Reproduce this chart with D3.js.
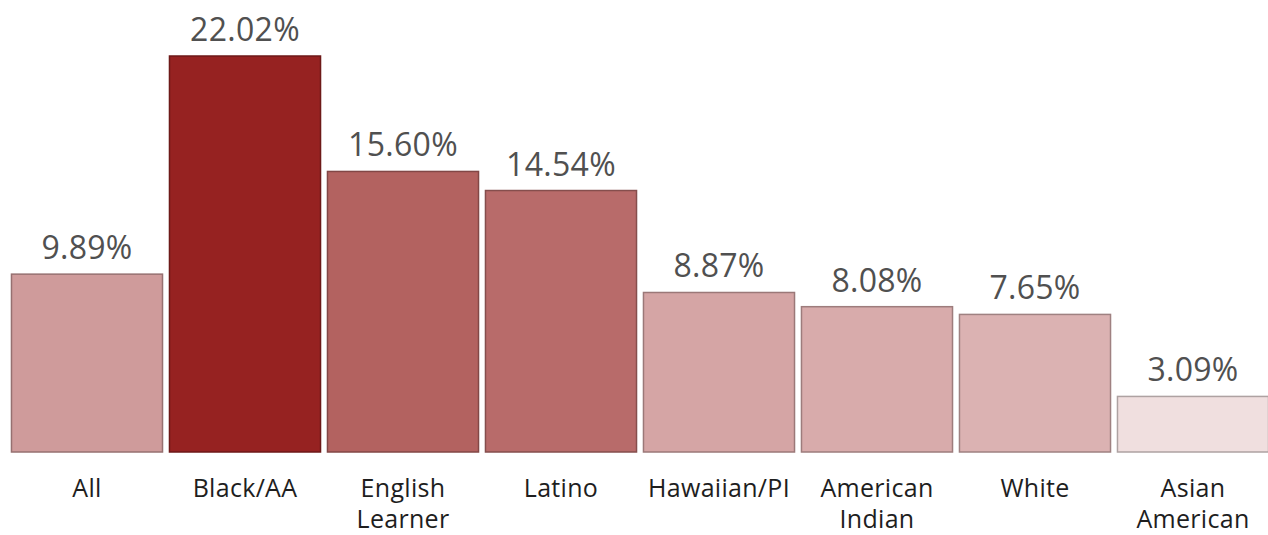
<!DOCTYPE html>
<meta charset="utf-8">
<style>
body { margin: 0; background: #fff; }
svg { display: block; }
.value { font: 32px "Open Sans", sans-serif; fill: #505050; letter-spacing: 0.3px; }
.cat { font: 25px "Open Sans", sans-serif; fill: #1e1e1e; letter-spacing: 0.3px; }
</style>
<body>
<svg id="chart" width="1268" height="535"></svg>
<script src="https://cdn.jsdelivr.net/npm/d3@7"></script>
<script>

var categories = ["All", "Black/AA", "English\nLearner", "Latino", "Hawaiian/PI", "American\nIndian", "White", "Asian\nAmerican"];
var values = [9.89, 22.02, 15.60, 14.54, 8.87, 8.08, 7.65, 3.09];
var fills = ["#cf9b9b", "#962221", "#b36260", "#b86b6a", "#d5a5a5", "#d8abab", "#dbb2b2", "#f0dfdf"];

var width = 1268, height = 535;
var baseline = 452;

var svg = d3.select("#chart");

var x = d3.scaleBand()
  .domain(categories)
  .range([8, 1272])
  .paddingInner(0.044)
  .paddingOuter(0.022);

var y = d3.scaleLinear()
  .domain([0, 22.02])
  .range([baseline, 56]);

svg.selectAll(".bar")
  .data(values)
  .enter().append("rect")
  .attr("class", "bar")
  .attr("x", function(d, i) { return x(categories[i]); })
  .attr("y", function(d) { return y(d); })
  .attr("width", x.bandwidth())
  .attr("height", function(d) { return baseline - y(d); })
  .attr("fill", function(d, i) { return fills[i]; })
  .attr("stroke", function(d, i) { return d3.color(fills[i]).darker(0.9); })
  .attr("stroke-width", 1.5);

svg.selectAll(".value")
  .data(values)
  .enter().append("text")
  .attr("class", "value")
  .attr("text-anchor", "middle")
  .attr("x", function(d, i) { return x(categories[i]) + x.bandwidth() / 2; })
  .attr("y", function(d) { return y(d) - 15; })
  .text(function(d) { return d.toFixed(2) + "%"; });

var labels = svg.selectAll(".cat")
  .data(categories)
  .enter().append("text")
  .attr("class", "cat")
  .attr("text-anchor", "middle")
  .attr("x", function(d) { return x(d) + x.bandwidth() / 2; })
  .attr("y", 497);

labels.selectAll("tspan")
  .data(function(d) { return d.split("\n"); })
  .enter().append("tspan")
  .attr("x", function() { return d3.select(this.parentNode).attr("x"); })
  .attr("dy", function(d, i) { return i ? 31 : 0; })
  .text(function(d) { return d; });

</script>
